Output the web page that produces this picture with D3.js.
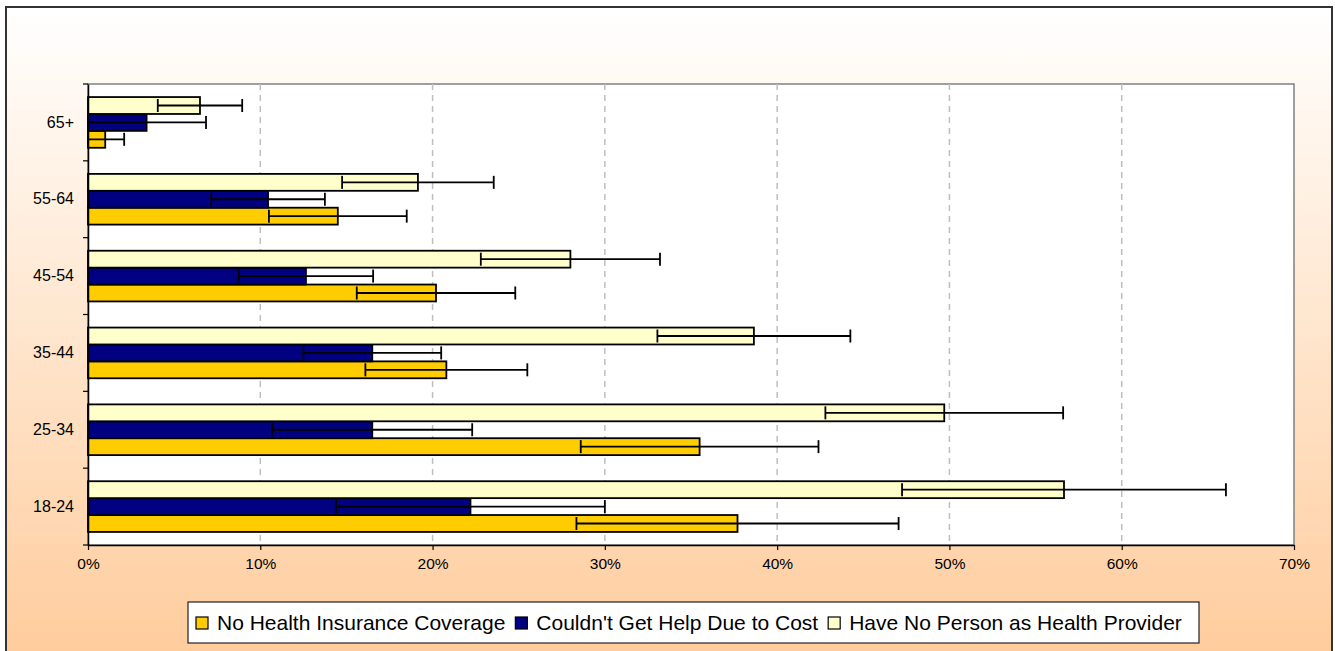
<!DOCTYPE html>
<html lang="en">
<head>
    <meta charset="UTF-8">
    <title>Health Access by Age Group</title>
    <script src="https://cdnjs.cloudflare.com/ajax/libs/d3/7.8.5/d3.min.js"></script>
    <style>
        body {
            margin: 0;
            background: #ffffff;
            font-family: 'Liberation Sans', Arial, sans-serif;
        }
        svg text {
            fill: #000;
        }
    </style>
</head>
<body>
    <svg id="chart" width="1335" height="651"></svg>

    <script>
        // categories top to bottom
        const ageGroups = ["65+", "55-64", "45-54", "35-44", "25-34", "18-24"];

        const noInsurance    = [1.0, 14.5, 20.2, 20.8, 35.5, 37.7];
        const noInsuranceErr = [1.1, 4.0, 4.6, 4.7, 6.9, 9.35];

        const costBarrier    = [3.4, 10.45, 12.65, 16.5, 16.5, 22.2];
        const costBarrierErr = [3.45, 3.3, 3.9, 4.0, 5.8, 7.8];

        const noProvider     = [6.5, 19.15, 28.0, 38.65, 49.7, 56.65];
        const noProviderErr  = [2.45, 4.4, 5.2, 5.6, 6.9, 9.4];

        const xTicks = [0, 10, 20, 30, 40, 50, 60, 70];

        const seriesNames = ["No Health Insurance Coverage", "Couldn't Get Help Due to Cost", "Have No Person as Health Provider"];
        const seriesColors = ["#FFCC00", "#000080", "#FFFFCC"];

        const series = [
            { key: "noIns", name: seriesNames[0], color: seriesColors[0], values: noInsurance, errs: noInsuranceErr },
            { key: "cost", name: seriesNames[1], color: seriesColors[1], values: costBarrier, errs: costBarrierErr },
            { key: "prov", name: seriesNames[2], color: seriesColors[2], values: noProvider, errs: noProviderErr }
        ];

        const svg = d3.select("#chart");

        // background gradient
        const defs = svg.append("defs");
        const grad = defs.append("linearGradient")
            .attr("id", "bg")
            .attr("x1", 0).attr("y1", 0).attr("x2", 0).attr("y2", 1);
        grad.append("stop").attr("offset", "0%").attr("stop-color", "#FFFFFF");
        grad.append("stop").attr("offset", "100%").attr("stop-color", "#FFCA98");

        svg.append("rect")
            .attr("x", 6).attr("y", 7)
            .attr("width", 1326).attr("height", 680)
            .attr("fill", "url(#bg)")
            .attr("stroke", "#333")
            .attr("stroke-width", 2);

        const plot = { left: 88, top: 84, right: 1294, bottom: 545 };

        const x = d3.scaleLinear().domain([0, 70]).range([plot.left, plot.right]);
        const y = d3.scaleBand().domain(ageGroups)
            .range([plot.top, plot.bottom])
            .paddingInner(0.34).paddingOuter(0.17);
        // series order inside a group: provider top, cost middle, insurance bottom
        const ySub = d3.scaleBand().domain(["prov", "cost", "noIns"]).range([0, y.bandwidth()]);

        // plot area
        svg.append("rect")
            .attr("x", plot.left).attr("y", plot.top)
            .attr("width", plot.right - plot.left).attr("height", plot.bottom - plot.top)
            .attr("fill", "#fff")
            .attr("stroke", "#808080")
            .attr("stroke-width", 1.5);

        // gridlines
        svg.append("g").selectAll("line")
            .data(xTicks.slice(1, -1))
            .enter().append("line")
            .attr("x1", d => x(d)).attr("x2", d => x(d))
            .attr("y1", plot.top).attr("y2", plot.bottom)
            .attr("stroke", "#BFBFBF")
            .attr("stroke-width", 1.5)
            .attr("stroke-dasharray", "6,5");

        // bars
        const groups = svg.append("g").selectAll("g")
            .data(ageGroups)
            .enter().append("g")
            .attr("transform", d => `translate(0, ${y(d)})`);

        series.forEach(s => {
            groups.append("rect")
                .attr("x", plot.left)
                .attr("y", ySub(s.key))
                .attr("width", (d, i) => x(s.values[i]) - plot.left)
                .attr("height", ySub.bandwidth())
                .attr("fill", s.color)
                .attr("stroke", "#000")
                .attr("stroke-width", 1.8);
        });

        // error bars
        series.forEach(s => {
            const cy = ySub(s.key) + ySub.bandwidth() / 2;
            const cap = 6.5;
            groups.each(function(d, i) {
                const g = d3.select(this);
                const lo = x(Math.max(0, s.values[i] - s.errs[i]));
                const hi = x(s.values[i] + s.errs[i]);
                g.append("line")
                    .attr("x1", lo).attr("x2", hi)
                    .attr("y1", cy).attr("y2", cy)
                    .attr("stroke", "#000").attr("stroke-width", 1.8);
                [lo, hi].forEach(px => {
                    g.append("line")
                        .attr("x1", px).attr("x2", px)
                        .attr("y1", cy - cap).attr("y2", cy + cap)
                        .attr("stroke", "#000").attr("stroke-width", 1.8);
                });
            });
        });

        // x axis
        const xAxis = svg.append("g")
            .attr("transform", `translate(0, ${plot.bottom})`)
            .call(d3.axisBottom(x).tickValues(xTicks).tickFormat(d => d + "%").tickSize(5).tickSizeOuter(0));
        xAxis.select(".domain").attr("stroke", "#000").attr("stroke-width", 1.5);
        xAxis.selectAll(".tick line").attr("stroke", "#000").attr("stroke-width", 1.2);
        xAxis.selectAll("text")
            .attr("font-family", "'Liberation Sans', Arial, sans-serif")
            .attr("font-size", "15.5px")
            .attr("dy", "1.05em")
            .attr("fill", "#000");

        // y axis
        const yAxis = svg.append("g")
            .attr("transform", `translate(${plot.left}, 0)`)
            .call(d3.axisLeft(y).tickSize(0).tickPadding(14));
        yAxis.select(".domain").attr("stroke", "#000").attr("stroke-width", 1.5);
        yAxis.selectAll("text")
            .attr("font-family", "'Liberation Sans', Arial, sans-serif")
            .attr("font-size", "16px")
            .attr("fill", "#000");

        // category separator ticks
        const step = y.step();
        svg.append("g").selectAll("line")
            .data(d3.range(ageGroups.length + 1))
            .enter().append("line")
            .attr("x1", plot.left - 5).attr("x2", plot.left)
            .attr("y1", i => plot.top + i * step).attr("y2", i => plot.top + i * step)
            .attr("stroke", "#000").attr("stroke-width", 1.2);

        // legend
        const legend = svg.append("g");
        legend.append("rect")
            .attr("x", 188).attr("y", 602)
            .attr("width", 1011).attr("height", 41)
            .attr("fill", "#fff")
            .attr("stroke", "#222")
            .attr("stroke-width", 1.2);

        let lx = 196;
        series.forEach(s => {
            legend.append("rect")
                .attr("x", lx).attr("y", 617)
                .attr("width", 12).attr("height", 12)
                .attr("fill", s.color)
                .attr("stroke", "#000")
                .attr("stroke-width", 1.2);
            const t = legend.append("text")
                .attr("x", lx + 21).attr("y", 630)
                .attr("font-family", "'Liberation Sans', Arial, sans-serif")
                .attr("font-size", "21px")
                .text(s.name);
            lx += 21 + t.node().getComputedTextLength() + 10;
        });
    </script>
</body>
</html>
